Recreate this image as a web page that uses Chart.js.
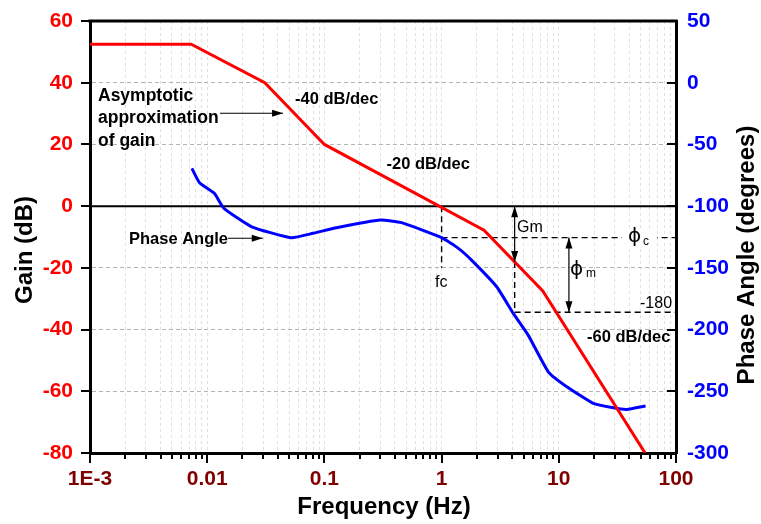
<!DOCTYPE html>
<html><head><meta charset="utf-8">
<script src="https://cdn.jsdelivr.net/npm/chart.js@4/dist/chart.umd.min.js"></script>
<style>html,body{margin:0;padding:0;background:#fff;}#wrap{width:761px;height:524px;position:relative;}</style>
</head><body><div id="wrap"><canvas id="c"></canvas></div>
<script>
// ---- data ----
const gainFreq = [0.001, 0.0073, 0.031, 0.1, 2.3, 7.3, 54.5];
const gainDb   = [52.5, 52.5, 40, 20, -7.8, -27.5, -80];
const phaseFreq = [0.0074, 0.0086, 0.0115, 0.0139, 0.024, 0.052, 0.080, 0.127, 0.30, 0.456, 1.0, 1.39, 1.8, 2.95, 4.09, 5.48, 8.13, 11.7, 19.7, 29.2, 37.9, 55];
const phaseDeg  = [-69.4, -81, -89.6, -101.8, -116.7, -125.6, -122, -117.5, -111.3, -113.4, -125.6, -134.2, -143.7, -165.3, -186.9, -204.5, -234.2, -246.3, -259.8, -263.4, -264.7, -262];
const xTickValues = [0.001, 0.01, 0.1, 1, 10, 100];
const xTickLabels = ['1E-3', '0.01', '0.1', '1', '10', '100'];
const gainTicks  = [-80, -60, -40, -20, 0, 20, 40, 60];
const phaseTicks = [-300, -250, -200, -150, -100, -50, 0, 50];
// annotation values (gain axis, dB)
const fcFreq = 1;            // crossover frequency
const fcGainEnd = -20;
const phiCGain = -10.2;      // phase at fc, shown on gain grid
const gmFreq = 4.2;          // frequency of -180 phase
const ref180Gain = -34.4;    // -180 reference line level
const phiMFreq = 12.2;

function gainAt(f) {
  const lf = Math.log10(f);
  for (let i = 0; i < gainFreq.length - 1; i++) {
    const a = Math.log10(gainFreq[i]), b = Math.log10(gainFreq[i + 1]);
    if (lf >= a && lf <= b) return gainDb[i] + (gainDb[i + 1] - gainDb[i]) * (lf - a) / (b - a);
  }
  return gainDb[gainDb.length - 1];
}
const gmGain = gainAt(gmFreq);

const FONT = "'Liberation Sans', Arial, Helvetica, sans-serif";

const allXTicks = [];
for (let e = -3; e <= 2; e++) for (let m = 1; m <= 9; m++) { const v = m * Math.pow(10, e); if (v <= 100.0001) allXTicks.push(v); }
function isMajor(v) { const l = Math.log10(v); return Math.abs(l - Math.round(l)) < 1e-6; }

const dash = (pts, axis) => ({
  data: pts, yAxisID: axis || 'y', borderColor: '#000', borderWidth: 1.4, borderDash: [6, 4],
  pointRadius: 0, fill: false, tension: 0, order: 5
});

const annot = {
  id: 'annot',
  afterDraw(chart) {
    const ctx = chart.ctx, ca = chart.chartArea;
    const xs = chart.scales.x, ys = chart.scales.y, y1 = chart.scales.y1;
    const X = v => xs.getPixelForValue(v), Y = v => ys.getPixelForValue(v), Y1 = v => y1.getPixelForValue(v);
    ctx.save();
    // top frame
    ctx.strokeStyle = '#000'; ctx.lineWidth = 3;
    ctx.beginPath(); ctx.moveTo(ca.left - 1.5, ca.top); ctx.lineTo(ca.right + 1.5, ca.top); ctx.stroke();
    // tick marks
    ctx.lineWidth = 2;
    gainTicks.forEach(v => { const y = Math.round(Y(v)); ctx.beginPath(); ctx.moveTo(ca.left - 9, y); ctx.lineTo(ca.left, y); ctx.stroke(); });
    phaseTicks.forEach(v => { const y = Math.round(Y1(v)); ctx.beginPath(); ctx.moveTo(ca.right - 9, y); ctx.lineTo(ca.right, y); ctx.stroke(); });
    allXTicks.forEach(v => { const x = Math.round(X(v)); const len = isMajor(v) ? 10 : 6; ctx.beginPath(); ctx.moveTo(x, ca.bottom); ctx.lineTo(x, ca.bottom + len); ctx.stroke(); });
    // axis titles
    ctx.fillStyle = '#000';
    ctx.font = 'bold 24px ' + FONT;
    ctx.textAlign = 'center'; ctx.textBaseline = 'alphabetic';
    ctx.fillText('Frequency (Hz)', 384, 514);
    ctx.save(); ctx.translate(32, 250); ctx.rotate(-Math.PI / 2); ctx.fillText('Gain (dB)', 0, 0); ctx.restore();
    ctx.save(); ctx.translate(754, 255); ctx.rotate(-Math.PI / 2); ctx.fillText('Phase Angle (degrees)', 0, 0); ctx.restore();
    // texts
    ctx.textAlign = 'left';
    ctx.font = 'bold 17.5px ' + FONT;
    ctx.fillText('Asymptotic', 98, 101);
    ctx.fillText('approximation', 98, 123);
    ctx.fillText('of gain', 98, 145.5);
    ctx.font = 'bold 16.5px ' + FONT;
    ctx.fillText('-40 dB/dec', 295, 104);
    ctx.fillText('-20 dB/dec', 386.5, 169);
    ctx.fillText('Phase Angle', 129, 244);
    ctx.fillText('-60 dB/dec', 587, 341.5);
    ctx.font = '16px ' + FONT;
    ctx.fillText('fc', 435, 287);
    ctx.fillText('Gm', 517, 231.5);
    ctx.fillText('-180', 640, 308);
    // phi c with white box
    ctx.fillStyle = '#fff'; ctx.fillRect(622, 228, 35, 19);
    ctx.fillStyle = '#000';
    ctx.font = "20px 'DejaVu Sans', " + FONT; ctx.textBaseline = 'middle';
    ctx.fillText('\u03D5', 628, 237);
    ctx.fillText('\u03D5', 570, 270);
    ctx.textBaseline = 'alphabetic';
    ctx.font = '12px ' + FONT;
    ctx.fillText('c', 643, 245);
    ctx.fillText('m', 586, 277);
    // arrows
    function head(x, y, dx, dy) {
      const L = Math.hypot(dx, dy), ux = dx / L, uy = dy / L, hl = 11, hw = 3.5;
      ctx.beginPath(); ctx.moveTo(x, y);
      ctx.lineTo(x - ux * hl - uy * hw, y - uy * hl + ux * hw);
      ctx.lineTo(x - ux * hl + uy * hw, y - uy * hl - ux * hw);
      ctx.closePath(); ctx.fill();
    }
    function arrow(x1, y1_, x2, y2, both) {
      ctx.lineWidth = 1.2; ctx.strokeStyle = '#000'; ctx.fillStyle = '#000';
      ctx.beginPath(); ctx.moveTo(x1, y1_); ctx.lineTo(x2, y2); ctx.stroke();
      head(x2, y2, x2 - x1, y2 - y1_);
      if (both) head(x1, y1_, x1 - x2, y1_ - y2);
    }
    arrow(X(0.01285), Y(30.1), X(0.0444), Y(30.1));
    arrow(X(0.0150), Y(-10.4), X(0.0298), Y(-10.4));
    arrow(X(gmFreq), Y(0), X(gmFreq), Y(gmGain), true);
    arrow(X(phiMFreq), Y(phiCGain), X(phiMFreq), Y(ref180Gain), true);
    ctx.restore();
  }
};

const noPadV = s => { s.paddingTop = 0; s.paddingBottom = 0; };

new Chart(document.getElementById('c'), {
  type: 'line',
  data: {
    datasets: [
      { data: gainFreq.map((f, i) => ({ x: f, y: gainDb[i] })), yAxisID: 'y', borderColor: '#ff0000', borderWidth: 3, pointRadius: 0, tension: 0, order: 0 },
      { data: phaseFreq.map((f, i) => ({ x: f, y: phaseDeg[i] })), yAxisID: 'y1', borderColor: '#0000ff', borderWidth: 3, pointRadius: 0, tension: 0.15, order: 1 },
      { data: [{ x: 0.001, y: 0 }, { x: 100, y: 0 }], yAxisID: 'y', borderColor: '#000', borderWidth: 2, pointRadius: 0, order: 3 },
      dash([{ x: fcFreq, y: 0 }, { x: fcFreq, y: fcGainEnd }]),
      dash([{ x: fcFreq, y: phiCGain }, { x: 100, y: phiCGain }]),
      dash([{ x: gmFreq, y: gmGain }, { x: gmFreq, y: ref180Gain }]),
      dash([{ x: gmFreq, y: ref180Gain }, { x: 100, y: ref180Gain }])
    ]
  },
  options: {
    responsive: true, maintainAspectRatio: false, animation: false,
    layout: { padding: { top: 21, left: 0, right: 0, bottom: 0 } },
    plugins: { legend: { display: false }, tooltip: { enabled: false } },
    scales: {
      x: {
        type: 'logarithmic', min: 0.001, max: 100,
        afterBuildTicks: s => { s.ticks = allXTicks.map(v => ({ value: v })); },
        afterFit: s => { s.height = 71; s.paddingLeft = 0; s.paddingRight = 0; },
        ticks: {
          autoSkip: false, maxRotation: 0, padding: 14, color: '#800000',
          font: { family: FONT, size: 21, weight: 'bold' },
          callback: v => { const i = xTickValues.findIndex(t => Math.abs(t - v) / t < 1e-6); return i >= 0 ? xTickLabels[i] : ''; }
        },
        grid: { color: '#e0e0e0', lineWidth: 1, drawTicks: false },
        border: { display: true, color: '#000', width: 3, dash: [3, 3] }
      },
      y: {
        type: 'linear', position: 'left', min: -80, max: 60,
        afterBuildTicks: s => { s.ticks = gainTicks.map(v => ({ value: v })); },
        afterFit: s => { s.width = 90; noPadV(s); },
        ticks: { padding: 17, color: '#ff0000', font: { family: FONT, size: 21, weight: 'bold' } },
        grid: { color: c => (c.tick && (c.tick.value === 0 || c.tick.value === 60 || c.tick.value === -80)) ? 'rgba(0,0,0,0)' : '#b4b4b4', lineWidth: 1, drawTicks: false },
        border: { display: true, color: '#000', width: 3, dash: [4, 3] }
      },
      y1: {
        type: 'linear', position: 'right', min: -300, max: 50,
        afterBuildTicks: s => { s.ticks = phaseTicks.map(v => ({ value: v })); },
        afterFit: s => { s.width = 85; noPadV(s); },
        ticks: { padding: 11, color: '#0000ff', font: { family: FONT, size: 21, weight: 'bold' } },
        grid: { drawOnChartArea: false, drawTicks: false },
        border: { display: true, color: '#000', width: 3 }
      }
    }
  },
  plugins: [annot]
});
</script></body></html>
